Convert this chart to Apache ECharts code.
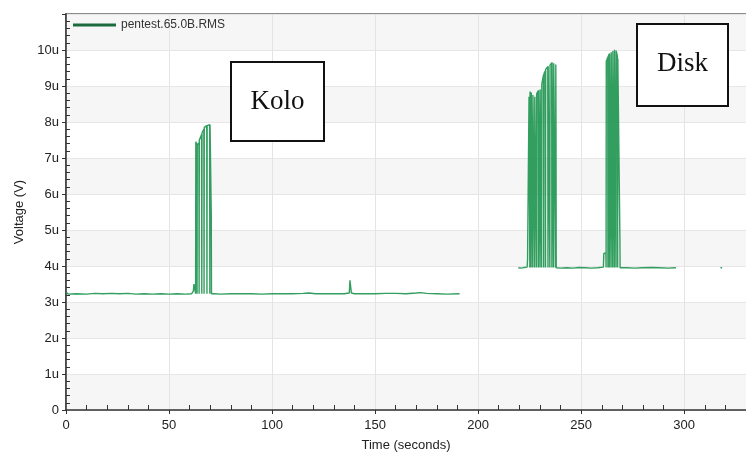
<!DOCTYPE html>
<html>
<head>
<meta charset="utf-8">
<script src="https://cdn.jsdelivr.net/npm/echarts@6/dist/echarts.min.js"></script>
<style>
  html, body { margin: 0; padding: 0; background: #fff; }
  #chart { width: 746px; height: 457px; }
</style>
</head>
<body>
<div id="chart"></div>
<script>
const seriesName = 'pentest.65.0B.RMS';
const yTickLabels = ['0', '1u', '2u', '3u', '4u', '5u', '6u', '7u', '8u', '9u', '10u'];
const xTickLabels = ['0', '50', '100', '150', '200', '250', '300'];

// [time s, volts in u]
const koloRun = [
  [0, 3.28], [1, 3.22], [5, 3.23], [10, 3.22], [14, 3.24], [18, 3.23], [22, 3.24], [26, 3.23],
  [30, 3.24], [34, 3.22], [38, 3.23], [42, 3.22], [46, 3.23], [50, 3.22], [54, 3.23], [58, 3.22],
  [61, 3.23], [61.8, 3.3], [62.1, 3.5], [62.8, 3.5], [62.9, 3.23],
  [63.0, 7.45], [63.5, 7.38], [63.6, 3.23], [63.7, 7.36], [64.5, 7.42], [64.6, 3.23],
  [64.7, 7.5], [65.8, 7.65], [65.9, 3.23], [66.0, 7.7], [66.9, 7.8], [67.0, 3.23],
  [67.1, 7.85], [68.3, 7.9], [68.4, 3.23], [68.5, 7.9], [69.7, 7.93], [69.8, 3.23],
  [69.9, 7.92], [70.4, 7.9], [70.5, 5.4], [70.6, 3.23],
  [72, 3.23], [75, 3.22], [80, 3.23], [85, 3.23], [90, 3.23], [95, 3.22], [100, 3.23],
  [105, 3.23], [110, 3.23], [115, 3.24], [118, 3.25], [121, 3.23], [125, 3.23], [130, 3.23],
  [135, 3.23], [137.5, 3.25], [137.8, 3.6], [138.3, 3.55], [138.5, 3.25], [140, 3.23],
  [145, 3.23], [150, 3.23], [155, 3.24], [160, 3.24], [165, 3.23], [170, 3.25], [172, 3.26],
  [175, 3.24], [180, 3.23], [185, 3.22], [191, 3.23]
];

const diskRun = [
  [219.5, 3.95], [221, 3.94], [222.5, 3.96], [223.8, 3.97], [224, 4.2], [224.6, 4.25],
  [224.7, 8.70], [225.0, 8.72], [225.1, 3.96], [225.2, 8.85], [225.6, 8.89], [225.7, 3.96],
  [225.8, 8.82], [226.4, 8.78], [226.5, 3.96], [226.6, 8.75], [227.3, 8.72], [227.4, 3.96],
  [227.5, 8.70], [228.2, 8.74], [228.3, 3.96], [228.4, 8.78], [229.1, 8.86], [229.2, 3.96],
  [229.3, 8.88], [229.9, 8.91], [230.0, 3.96], [230.1, 8.90], [230.7, 8.95], [230.8, 3.96],
  [230.9, 9.05], [231.7, 9.30], [231.8, 3.96], [231.9, 9.33], [232.6, 9.42], [232.7, 3.96],
  [232.8, 9.46], [233.8, 9.54], [233.9, 3.96], [234.0, 9.55], [234.7, 9.56], [234.8, 3.96],
  [234.9, 9.58], [235.7, 9.64], [235.8, 3.96], [235.9, 9.66], [236.5, 9.65], [236.6, 3.96],
  [236.7, 9.63], [237.5, 9.60], [237.6, 3.96], [237.7, 9.60], [237.8, 7.8], [237.9, 3.95],
  [240, 3.94], [243, 3.95], [246, 3.94], [249, 3.96], [252, 3.95], [255, 3.94], [258, 3.95],
  [260.8, 3.97], [261, 4.35], [262, 4.36], [262.1, 3.96],
  [262.2, 9.68], [262.9, 9.80], [263.0, 3.96], [263.1, 9.82], [263.6, 9.89], [263.7, 3.96],
  [263.8, 9.90], [264.4, 9.93], [264.5, 3.96], [264.6, 9.94], [265.2, 9.96], [265.3, 3.96],
  [265.4, 9.97], [266.0, 10.0], [266.1, 3.96], [266.2, 10.01], [266.8, 10.02], [266.9, 3.96],
  [267.0, 9.98], [267.6, 9.82], [267.7, 3.96], [267.8, 9.76], [268.7, 9.72], [268.8, 4.8],
  [268.9, 3.95], [272, 3.95], [276, 3.94], [280, 3.95], [284, 3.96], [288, 3.95],
  [292, 3.94], [296, 3.95]
];

const diskTail = [[317.6, 3.95], [318.4, 3.95]];

const chart = echarts.init(document.getElementById('chart'));
const font = 'Liberation Sans, Arial, sans-serif';
const serif = '27px "Liberation Serif", "Times New Roman", serif';
const lineCol = 'rgba(28, 148, 78, 0.9)';

function mkSeries(data) {
  return {
    name: seriesName,
    type: 'line',
    data: data,
    symbol: 'none',
    showSymbol: false,
    animation: false,
    lineStyle: { color: lineCol, width: 1.4 },
    itemStyle: { color: '#1d6b3c' },
    xAxisIndex: 0,
    yAxisIndex: 0
  };
}

const option = {
  backgroundColor: '#fff',
  animation: false,
  grid: {
    left: 66, right: 0, top: 14, bottom: 47,
    show: true, borderColor: '#8c8c8c', borderWidth: 2, backgroundColor: 'transparent'
  },
  legend: {
    data: [seriesName],
    left: 68, top: 14,
    icon: 'rect', itemWidth: 43, itemHeight: 3,
    itemStyle: { color: '#1d6b3c' },
    textStyle: { fontFamily: font, fontSize: 12, color: '#333' }
  },
  xAxis: [
    {
      type: 'value', min: 0, max: 330, interval: 50, position: 'bottom',
      name: 'Time (seconds)', nameLocation: 'middle', nameGap: 29,
      nameTextStyle: { fontFamily: font, fontSize: 13, color: '#222' },
      axisLine: { show: true, onZero: false, lineStyle: { color: '#333', width: 1.5 } },
      axisTick: { show: false, inside: true },
      minorTick: { show: true, splitNumber: 5, length: 5, lineStyle: { color: '#333' } },
      axisLabel: {
        fontFamily: font, fontSize: 13, color: '#222', margin: 9, showMaxLabel: false,
        formatter: (v) => xTickLabels[Math.round(v / 50)] ?? ''
      },
      splitLine: { show: true, lineStyle: { color: '#e4e4e4', width: 1 } }
    },
    {
      type: 'value', min: 0, max: 330, interval: 50, position: 'bottom', gridIndex: 0,
      axisLine: { show: false, onZero: false },
      axisTick: { show: true, length: 4, lineStyle: { color: '#333' } },
      axisLabel: { show: false },
      splitLine: { show: false }
    }
  ],
  yAxis: [
    {
      type: 'value', min: 0, max: 11, interval: 1, position: 'left',
      name: 'Voltage (V)', nameLocation: 'middle', nameGap: 40, nameRotate: 90,
      nameTextStyle: { fontFamily: font, fontSize: 13, color: '#222' },
      axisLine: { show: true, onZero: false, lineStyle: { color: '#333', width: 1.5 } },
      axisTick: { show: false, inside: true },
      minorTick: { show: true, splitNumber: 5, length: 4, lineStyle: { color: '#333' } },
      axisLabel: {
        fontFamily: font, fontSize: 13, color: '#222', margin: 7, showMaxLabel: false,
        formatter: (v) => yTickLabels[Math.round(v)] ?? ''
      },
      splitLine: { show: true, lineStyle: { color: '#e6e6e6', width: 1 } },
      splitArea: { show: true, areaStyle: { color: ['#f6f6f6', '#ffffff'] } }
    },
    {
      type: 'value', min: 0, max: 11, interval: 1, position: 'left', gridIndex: 0,
      axisLine: { show: false, onZero: false },
      axisTick: { show: true, length: 4, lineStyle: { color: '#333' } },
      axisLabel: { show: false },
      splitLine: { show: false }
    }
  ],
  series: [mkSeries(koloRun), mkSeries(diskRun), mkSeries(diskTail)],
  graphic: [
    {
      type: 'rect', z: 100,
      shape: { x: 231, y: 62, width: 93, height: 79 },
      style: { fill: '#fff', stroke: '#111', lineWidth: 2 }
    },
    {
      type: 'text', z: 101, x: 277.5, y: 102,
      style: { text: 'Kolo', font: serif, fill: '#111', align: 'center', verticalAlign: 'middle' }
    },
    {
      type: 'rect', z: 100,
      shape: { x: 637, y: 24, width: 91, height: 82 },
      style: { fill: '#fff', stroke: '#111', lineWidth: 2 }
    },
    {
      type: 'text', z: 101, x: 682.5, y: 64,
      style: { text: 'Disk', font: serif, fill: '#111', align: 'center', verticalAlign: 'middle' }
    }
  ]
};

chart.setOption(option);
window.addEventListener('resize', () => chart.resize());
</script>
</body>
</html>
